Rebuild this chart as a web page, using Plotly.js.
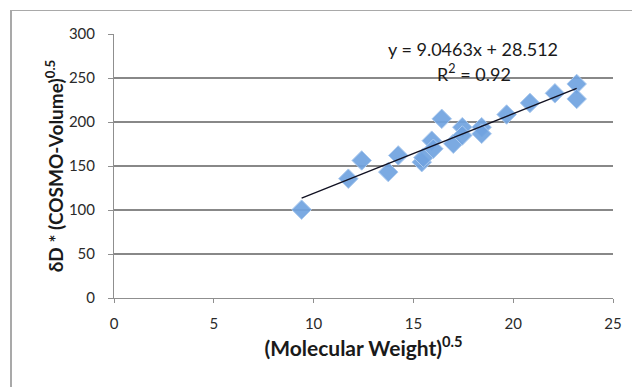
<!DOCTYPE html>
<html>
<head>
<meta charset="utf-8">
<script src="https://cdn.plot.ly/plotly-3.0.1.min.js"></script>
<style>
  html, body { margin: 0; padding: 0; background: #ffffff; }
  #wrap { position: relative; width: 632px; height: 387px; }
  #chart { width: 632px; height: 387px; }
  #frame { position: absolute; left: 10px; top: 10px; right: 0; bottom: 0;
           border-top: 1px solid #a9a9a9; border-left: 2px solid #a9a9a9; pointer-events: none; }
</style>
</head>
<body>
<div id="wrap"><div id="chart"></div><div id="frame"></div></div>
<script>
// Data
const sqrtMW = [9.40, 11.74, 12.41, 13.74, 14.24, 15.42, 15.50, 15.92, 16.00, 16.42,
                17.00, 17.45, 17.45, 18.42, 18.42, 19.67, 20.84, 22.09, 23.18, 23.18];
const dDcosmo = [100.4, 135.6, 156.3, 143.1, 162.0, 154.4, 159.5, 178.8, 169.6, 203.6,
                 175.3, 194.1, 184.7, 194.1, 186.6, 208.5, 221.7, 232.6, 243.2, 226.2];
const slope = 9.0463;
const intercept = 28.512;
const rSquared = 0.92;
const xTicks = [0, 5, 10, 15, 20, 25];
const yTicks = [0, 50, 100, 150, 200, 250, 300];

const xMin = Math.min(...sqrtMW), xMax = Math.max(...sqrtMW);
const trendX = [xMin, xMax];
const trendY = trendX.map(v => slope * v + intercept);

const FONT = 'Lato, "Open Sans", sans-serif';

const points = {
  x: sqrtMW, y: dDcosmo, type: 'scatter', mode: 'markers',
  marker: { symbol: 'diamond', size: 15, color: 'rgba(112,163,224,0.92)',
            line: { color: '#abcaef', width: 1 } },
  hoverinfo: 'x+y', showlegend: false
};
const trend = {
  x: trendX, y: trendY, type: 'scatter', mode: 'lines',
  line: { color: '#111122', width: 1.3 }, hoverinfo: 'skip', showlegend: false
};

const layout = {
  width: 632, height: 387,
  margin: { l: 114, r: 19, t: 34, b: 89 },
  paper_bgcolor: '#ffffff', plot_bgcolor: '#ffffff',
  font: { family: FONT, size: 15, color: '#2a2a2a' },
  xaxis: {
    range: [0, 25], tickvals: xTicks, ticktext: xTicks.map(String),
    showgrid: false, zeroline: false, showline: true, linecolor: '#8f8f8f', linewidth: 1,
    ticks: 'outside', ticklen: 4, tickcolor: '#8f8f8f', ticklabelstandoff: 8,
    tickfont: { family: FONT, size: 15, color: '#2a2a2a' },
    title: { text: '<b>(Molecular Weight)</b><sup><b>0.5</b></sup>',
             font: { family: FONT, size: 21, color: '#1a1a1a' }, standoff: 7 }
  },
  yaxis: {
    range: [0, 300], tickvals: yTicks, ticktext: yTicks.map(String),
    showgrid: true, gridcolor: '#888888', gridwidth: 1.2,
    zeroline: false, showline: true, linecolor: '#8f8f8f', linewidth: 1,
    ticks: 'outside', ticklen: 5, tickcolor: '#8f8f8f', ticklabelstandoff: 10,
    tickfont: { family: FONT, size: 15, color: '#2a2a2a' },
    title: { text: '<b>δD * (COSMO-Volume)</b><sup><b>0.5</b></sup>',
             font: { family: FONT, size: 19, color: '#1a1a1a' }, standoff: 0 }
  },
  annotations: [
    { xref: 'paper', yref: 'paper', x: 0.7194, y: 0.9415, xanchor: 'center', yanchor: 'middle',
      text: 'y = ' + slope.toFixed(4) + 'x + ' + intercept.toFixed(3), showarrow: false,
      font: { family: FONT, size: 18, color: '#1a1a1a' } },
    { xref: 'paper', yref: 'paper', x: 0.7214, y: 0.852, xanchor: 'center', yanchor: 'middle',
      text: 'R<sup>2</sup> = ' + rSquared.toFixed(2), showarrow: false,
      font: { family: FONT, size: 18, color: '#1a1a1a' } }
  ]
};

Plotly.newPlot('chart', [points, trend], layout, { staticPlot: true, displayModeBar: false });
</script>
</body>
</html>
